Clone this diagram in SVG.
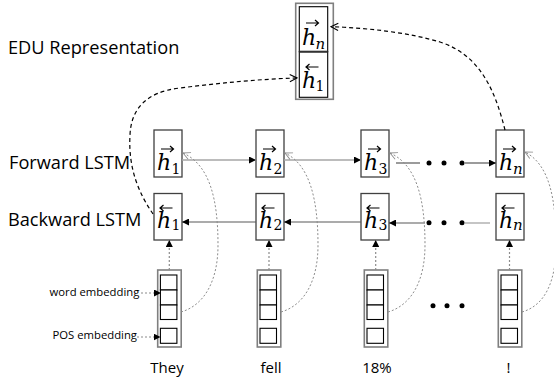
<svg xmlns="http://www.w3.org/2000/svg" width="554" height="382" viewBox="0 0 554 382">
<style>
.lbl{font-family:"Open Sans","Liberation Sans",sans-serif;fill:#000}
.big{font-size:18.2px}
.sm{font-size:11.3px}
.wd{font-size:15px}
.h{font-family:"DejaVu Serif","Liberation Serif",serif;font-style:italic;font-size:22px;fill:#000}
.sub{font-family:"DejaVu Serif","Liberation Serif",serif;font-size:14px;fill:#000}
.subi{font-family:"DejaVu Serif","Liberation Serif",serif;font-style:italic;font-size:15px;fill:#000}
.box{fill:#fff;stroke:#404040;stroke-width:1.3}
.outer{fill:#fff;stroke:#7f7f7f;stroke-width:1.6}
.cell{fill:#fff;stroke:#000;stroke-width:1.1}
.vec{fill:none;stroke:#000;stroke-width:1.2}
.dash{fill:none;stroke:#000;stroke-width:1.2;stroke-dasharray:4 3}
.dot{fill:none;stroke:#8c8c8c;stroke-width:1;stroke-dasharray:2 2}
.lg{stroke:#a6a6a6;stroke-width:1.3;fill:none}
.dk{stroke:#595959;stroke-width:1.2;fill:none}
.up{stroke:#8c8c8c;stroke-width:1.2;stroke-dasharray:2 2;fill:none}
</style>
<defs>
<marker id="tri" viewBox="0 0 8 8" refX="8" refY="4" markerWidth="7" markerHeight="7" markerUnits="userSpaceOnUse" orient="auto"><path d="M0 0 L8 4 L0 8z" fill="#000"/></marker>
<marker id="opg" viewBox="0 0 10 10" refX="9" refY="5" markerWidth="9" markerHeight="9" markerUnits="userSpaceOnUse" orient="auto"><path d="M1 1 L9 5 L1 9" fill="none" stroke="#8c8c8c" stroke-width="1"/></marker>
<marker id="opk" viewBox="0 0 10 10" refX="9" refY="5" markerWidth="9" markerHeight="9" markerUnits="userSpaceOnUse" orient="auto"><path d="M1 1 L9 5 L1 9" fill="none" stroke="#000" stroke-width="1.2"/></marker>
<path id="fa" class="vec" d="M0 0 H12.5 M9 -3 L12.5 0 L9 3"/>
<path id="ba" class="vec" d="M0 0 H12.5 M3.5 -3 L0 0 L3.5 3"/>
<g id="col">
<rect class="outer" x="0" y="0" width="23.5" height="77"/>
<rect class="cell" x="2.7" y="5" width="16.5" height="15"/>
<rect class="cell" x="2.7" y="20" width="16.5" height="15"/>
<rect class="cell" x="2.7" y="35" width="16.5" height="14.5"/>
<rect class="cell" x="2.7" y="58.3" width="16.5" height="15"/>
</g>
</defs>

<!-- labels -->
<g id="labels">
<text class="lbl big" x="8" y="53.5">EDU Representation</text>
<text class="lbl big" x="9" y="168.5">Forward LSTM</text>
<text class="lbl big" x="8" y="225.5">Backward LSTM</text>
<text class="lbl sm" x="49.5" y="295.5">word embedding</text>
<text class="lbl sm" x="52.5" y="339">POS embedding</text>
<text class="lbl wd" x="167" y="373" text-anchor="middle">They</text>
<text class="lbl wd" x="271" y="373" text-anchor="middle">fell</text>
<text class="lbl wd" x="377" y="373" text-anchor="middle">18%</text>
<text class="lbl wd" x="508.5" y="373" text-anchor="middle">!</text>
</g>

<!-- EDU node -->
<g id="edu">
<rect class="outer" x="295.7" y="3.3" width="37.6" height="96"/>
<rect class="cell" x="299.3" y="6.7" width="28.4" height="45"/>
<rect class="cell" x="299.3" y="51.7" width="28.4" height="45.6"/>
<line x1="299.3" y1="51.7" x2="327.7" y2="51.7" stroke="#333" stroke-width="2"/>
<use href="#fa" x="306" y="23"/>
<text class="h" x="302" y="45">h</text>
<text class="subi" x="315.5" y="48.5">n</text>
<use href="#ba" x="306" y="67"/>
<text class="h" x="302" y="88">h</text>
<text class="sub" x="315.5" y="91">1</text>
</g>

<!-- forward nodes -->
<g id="f1"><rect class="box" x="154" y="130" width="28" height="47"/><use href="#fa" x="161" y="149"/><text class="h" x="157" y="170">h</text><text class="sub" x="171.5" y="174">1</text></g>
<g id="f2"><rect class="box" x="256" y="130" width="28" height="47"/><use href="#fa" x="263" y="149"/><text class="h" x="259" y="170">h</text><text class="sub" x="273.5" y="174">2</text></g>
<g id="f3"><rect class="box" x="361" y="130" width="28" height="47"/><use href="#fa" x="368" y="149"/><text class="h" x="364" y="170">h</text><text class="sub" x="378.5" y="174">3</text></g>
<g id="fn"><rect class="box" x="496" y="130" width="28" height="47"/><use href="#fa" x="503" y="149"/><text class="h" x="499" y="170">h</text><text class="subi" x="513" y="174">n</text></g>

<!-- backward nodes -->
<g id="b1"><rect class="box" x="154" y="193.5" width="28" height="46.5"/><use href="#ba" x="160" y="208"/><text class="h" x="157" y="227.5">h</text><text class="sub" x="171.5" y="230">1</text></g>
<g id="b2"><rect class="box" x="256" y="193.5" width="28" height="46.5"/><use href="#ba" x="262" y="208"/><text class="h" x="259" y="227.5">h</text><text class="sub" x="273.5" y="230">2</text></g>
<g id="b3"><rect class="box" x="361" y="193.5" width="28" height="46.5"/><use href="#ba" x="367" y="208"/><text class="h" x="364" y="227.5">h</text><text class="sub" x="378.5" y="230">3</text></g>
<g id="bn"><rect class="box" x="496" y="193.5" width="28" height="46.5"/><use href="#ba" x="502" y="208"/><text class="h" x="499" y="227.5">h</text><text class="subi" x="513" y="230">n</text></g>

<!-- embedding nodes -->
<g id="e1"><use href="#col" x="157.7" y="270"/></g>
<g id="e2"><use href="#col" x="257.3" y="270"/></g>
<g id="e3"><use href="#col" x="364.3" y="270"/></g>
<g id="en"><use href="#col" x="498.3" y="270"/></g>

<!-- ellipsis dots -->
<g id="dots" fill="#000">
<circle cx="429" cy="163" r="2.5"/><circle cx="444" cy="163" r="2.5"/><circle cx="462" cy="163" r="2.5"/>
<circle cx="429" cy="222.7" r="2.5"/><circle cx="444" cy="222.7" r="2.5"/><circle cx="462" cy="222.7" r="2.5"/>
<circle cx="433" cy="305.7" r="2.5"/><circle cx="447" cy="305.7" r="2.5"/><circle cx="462" cy="305.7" r="2.5"/>
</g>

<!-- connectors -->
<g id="connectors">
<path class="lg" d="M182 160 H256" marker-end="url(#tri)"/>
<path class="lg" d="M284 160 H361" marker-end="url(#tri)"/>
<path class="dk" d="M396 163 H420"/>
<path class="dk" d="M465 163 H496" marker-end="url(#tri)"/>
<path class="dk" d="M256 222 H182" marker-end="url(#tri)"/>
<path class="dk" d="M361 222 H284" marker-end="url(#tri)"/>
<path class="dk" d="M425 223 H389" marker-end="url(#tri)"/>
<path class="lg" d="M490 223 H465"/>
<path class="up" d="M169.3 270 V240" marker-end="url(#tri)"/>
<path class="up" d="M269 270 V240" marker-end="url(#tri)"/>
<path class="up" d="M375.7 270 V240" marker-end="url(#tri)"/>
<path class="up" d="M509.5 270 V240" marker-end="url(#tri)"/>
<path class="up" d="M141 293 H161" marker-end="url(#tri)"/>
<path class="up" d="M137 337 H160.5" marker-end="url(#tri)"/>
<path class="dot" d="M181 312 C205 305, 218 280, 218 245 C218 200, 210 165, 183 153" marker-end="url(#opg)"/>
<path class="dot" d="M281 312 C305 305, 318 280, 318 245 C318 200, 310 165, 285 153" marker-end="url(#opg)"/>
<path class="dot" d="M388 312 C412 305, 425 280, 425 245 C425 200, 417 165, 390 153" marker-end="url(#opg)"/>
<path class="dot" d="M522 312 C546 305, 556 280, 556 245 C556 200, 550 165, 525 152" marker-end="url(#opg)"/>
<path class="dash" d="M153 214 C140 195, 128 170, 130 135 C131 110, 145 92, 180 88 C220 83, 260 79, 297 78" marker-end="url(#opk)"/>
<path class="dash" d="M505 130 C495 90, 480 55, 440 42 C410 33, 370 28, 331 26.7" marker-end="url(#opk)"/>
</g>
</svg>
